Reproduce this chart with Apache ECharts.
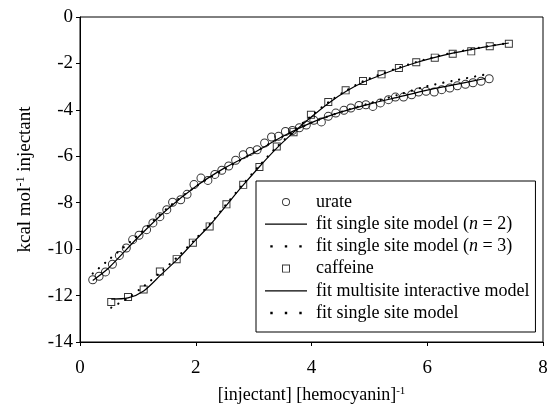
<!DOCTYPE html>
<html>
<head>
<meta charset="utf-8">
<script src="https://cdn.jsdelivr.net/npm/echarts@6/dist/echarts.min.js"></script>
<style>
  html, body { margin: 0; padding: 0; background: #fff; }
  #chart { width: 548px; height: 406px; }
</style>
</head>
<body>
<div id="chart"></div>
<script>
// urate data points
var urateX = [0.22, 0.33, 0.44, 0.56, 0.68, 0.80, 0.91, 1.02, 1.15, 1.26, 1.38, 1.50, 1.60, 1.74, 1.85, 1.97,
    2.09, 2.21, 2.33, 2.45, 2.57, 2.69, 2.82, 2.94, 3.06, 3.19, 3.31, 3.43, 3.55, 3.67, 3.79, 3.91,
    4.04, 4.17, 4.29, 4.42, 4.56, 4.68, 4.82, 4.94, 5.06, 5.19, 5.33, 5.45, 5.59, 5.73, 5.85, 5.98,
    6.12, 6.25, 6.39, 6.52, 6.66, 6.79, 6.93, 7.07];
var urateY = [-11.32, -11.17, -10.98, -10.65, -10.27, -9.95, -9.59, -9.40, -9.16, -8.87, -8.60, -8.30, -7.98, -7.87, -7.64, -7.22,
    -6.94, -7.04, -6.78, -6.60, -6.42, -6.17, -5.93, -5.79, -5.72, -5.43, -5.17, -5.14, -4.93, -4.89, -4.77, -4.65,
    -4.45, -4.52, -4.28, -4.14, -4.02, -3.92, -3.81, -3.78, -3.85, -3.70, -3.56, -3.45, -3.45, -3.35, -3.23, -3.20,
    -3.23, -3.13, -3.06, -2.96, -2.90, -2.83, -2.77, -2.66];

// caffeine data points
var caffeineX = [0.54, 0.83, 1.10, 1.38, 1.67, 1.95, 2.24, 2.53, 2.82, 3.10, 3.40, 3.69,
    3.99, 4.29, 4.59, 4.89, 5.21, 5.51, 5.81, 6.13, 6.44, 6.76, 7.08, 7.41];
var caffeineY = [-12.28, -12.06, -11.74, -10.96, -10.43, -9.72, -9.02, -8.07, -7.23, -6.46, -5.58, -4.96,
    -4.21, -3.66, -3.16, -2.76, -2.47, -2.20, -1.95, -1.75, -1.58, -1.48, -1.26, -1.15];

// urate fits
var urateFitX = [0.22, 0.5, 1.0, 1.5, 2.0, 2.5, 3.0, 3.5, 4.0, 4.5, 5.0, 5.5, 6.0, 6.5, 7.0];
var urateFit2Y = [-11.35, -10.8, -9.5, -8.3, -7.3, -6.5, -5.85, -5.15, -4.55, -4.1, -3.75, -3.45, -3.15, -2.9, -2.65];
var urateFit3Y = [-11.05, -10.45, -9.4, -8.25, -7.3, -6.55, -5.85, -5.15, -4.55, -4.1, -3.72, -3.35, -2.98, -2.72, -2.48];

// caffeine fits
var caffeineFitX = [0.54, 0.83, 1.1, 1.4, 1.7, 2.0, 2.25, 2.5, 2.8, 3.1, 3.4, 3.7, 4.0, 4.3, 4.6, 4.9,
    5.2, 5.5, 5.8, 6.1, 6.4, 6.8, 7.1, 7.41];
var caffeineMultiY = [-12.15, -12.1, -11.8, -11.1, -10.4, -9.6, -8.95, -8.2, -7.3, -6.45, -5.65, -4.95, -4.3, -3.7, -3.2, -2.8,
    -2.5, -2.22, -1.97, -1.76, -1.58, -1.38, -1.25, -1.12];
var caffeineSingleY = [-12.52, -12.1, -11.6, -10.98, -10.3, -9.55, -8.9, -8.15, -7.25, -6.4, -5.6, -4.9, -4.25, -3.66, -3.17, -2.76,
    -2.46, -2.19, -1.95, -1.74, -1.56, -1.37, -1.24, -1.12];

function zip(xs, ys) {
    var out = [];
    for (var i = 0; i < xs.length; i++) {
        out.push([xs[i], ys[i]]);
    }
    return out;
}

var FONT = '"Liberation Serif", "Times New Roman", serif';
var ring = 'path://M5,0A5,5 0 1,1 5,10A5,5 0 1,1 5,0Z M5,1.1A3.9,3.9 0 1,0 5,8.9A3.9,3.9 0 1,0 5,1.1Z';
var box = 'path://M0,0H10V10H0Z M1.2,1.2V8.8H8.8V1.2Z';
var solid = 'path://M0,0H42V1.2H0Z';
// 3 dots, with tiny corner specks so the icon box is 8 px tall and the dots keep their spacing
var dots = 'path://M0,2.8h2.4v2.4h-2.4z M14.5,2.8h2.4v2.4h-2.4z M29,2.8h2.4v2.4h-2.4z M0,0h0.01v0.01z M0,8h0.01v-0.01z';

var myChart = echarts.init(document.getElementById('chart'));
var option = {
    backgroundColor: '#fff',
    animation: false,
    textStyle: { fontFamily: FONT, color: '#000' },
    grid: {
        left: 80,
        right: 5,
        top: 17,
        bottom: 64,
        outerBoundsMode: 'none',
        containLabel: false,
        show: true,
        borderColor: '#000',
        borderWidth: 1
    },
    legend: {
        orient: 'vertical',
        left: 256,
        top: 181,
        padding: [11, 6, 9, 9],
        itemWidth: 42,
        itemHeight: 8,
        itemGap: 2.2,
        backgroundColor: '#fff',
        borderColor: '#000',
        borderWidth: 1,
        borderRadius: 0,
        textStyle: {
            fontFamily: FONT,
            fontSize: 18,
            lineHeight: 20,
            color: '#000',
            padding: [0, 0, 0, 4],
            rich: {
                i: { fontFamily: FONT, fontSize: 18, fontStyle: 'italic', color: '#000' }
            }
        },
        formatter: function (name) {
            return name.replace(/\(n = /, '({i|n} = ');
        },
        data: [
            { name: 'urate', icon: ring, itemStyle: { color: '#000', borderWidth: 0 } },
            { name: 'fit single site model (n = 2)', icon: solid, itemStyle: { color: '#000', borderWidth: 0 } },
            { name: 'fit single site model (n = 3)', icon: dots, itemStyle: { color: '#000', borderWidth: 0 } },
            { name: 'caffeine', icon: box, itemStyle: { color: '#000', borderWidth: 0 } },
            { name: 'fit multisite interactive model', icon: solid, itemStyle: { color: '#000', borderWidth: 0 } },
            { name: 'fit single site model', icon: dots, itemStyle: { color: '#000', borderWidth: 0 } }
        ]
    },
    xAxis: {
        type: 'value',
        min: 0,
        max: 8,
        interval: 2,
        name: '[injectant] [hemocyanin]{s|-1}',
        nameLocation: 'middle',
        nameGap: 44,
        nameTextStyle: {
            fontFamily: FONT,
            fontSize: 18,
            color: '#000',
            rich: {
                s: { fontFamily: FONT, fontSize: 11, color: '#000', verticalAlign: 'top', padding: [0, 0, 8, 0] }
            }
        },
        axisLine: { show: true, onZero: false, lineStyle: { color: '#000', width: 1 } },
        axisTick: { show: true, inside: false, length: 4, lineStyle: { color: '#000' } },
        axisLabel: { fontFamily: FONT, fontSize: 19, color: '#000', margin: 17 },
        splitLine: { show: false }
    },
    yAxis: {
        type: 'value',
        min: -14,
        max: 0,
        interval: 2,
        name: 'kcal mol{s|-1} injectant',
        nameLocation: 'middle',
        nameGap: 45,
        nameRotate: 90,
        nameTextStyle: {
            fontFamily: FONT,
            fontSize: 19,
            color: '#000',
            rich: {
                s: { fontFamily: FONT, fontSize: 12, color: '#000', verticalAlign: 'top', padding: [0, 0, 8, 0] }
            }
        },
        axisLine: { show: true, onZero: false, lineStyle: { color: '#000', width: 1 } },
        axisTick: { show: true, inside: false, length: 4, lineStyle: { color: '#000' } },
        axisLabel: { fontFamily: FONT, fontSize: 19, color: '#000', margin: 7 },
        splitLine: { show: false }
    },
    series: [
        {
            name: 'urate',
            type: 'scatter',
            symbol: ring,
            symbolSize: 9,
            itemStyle: { color: '#000' },
            data: zip(urateX, urateY),
            z: 3
        },
        {
            name: 'fit single site model (n = 2)',
            type: 'line',
            smooth: 0.3,
            showSymbol: false,
            symbol: 'none',
            lineStyle: { color: '#000', width: 1.2 },
            itemStyle: { color: '#000' },
            data: zip(urateFitX, urateFit2Y),
            z: 2
        },
        {
            name: 'fit single site model (n = 3)',
            type: 'line',
            smooth: 0.3,
            showSymbol: false,
            symbol: 'none',
            lineStyle: { color: '#000', width: 2.2, type: [0.1, 8], cap: 'round' },
            itemStyle: { color: '#000' },
            data: zip(urateFitX, urateFit3Y),
            z: 2
        },
        {
            name: 'caffeine',
            type: 'scatter',
            symbol: box,
            symbolSize: 8,
            itemStyle: { color: '#000' },
            data: zip(caffeineX, caffeineY),
            z: 3
        },
        {
            name: 'fit multisite interactive model',
            type: 'line',
            smooth: 0.3,
            showSymbol: false,
            symbol: 'none',
            lineStyle: { color: '#000', width: 1.2 },
            itemStyle: { color: '#000' },
            data: zip(caffeineFitX, caffeineMultiY),
            z: 2
        },
        {
            name: 'fit single site model',
            type: 'line',
            smooth: 0.3,
            showSymbol: false,
            symbol: 'none',
            lineStyle: { color: '#000', width: 2.2, type: [0.1, 8], cap: 'round' },
            itemStyle: { color: '#000' },
            data: zip(caffeineFitX, caffeineSingleY),
            z: 2
        }
    ]
};
myChart.setOption(option);
window.onresize = myChart.resize;
</script>
</body>
</html>
